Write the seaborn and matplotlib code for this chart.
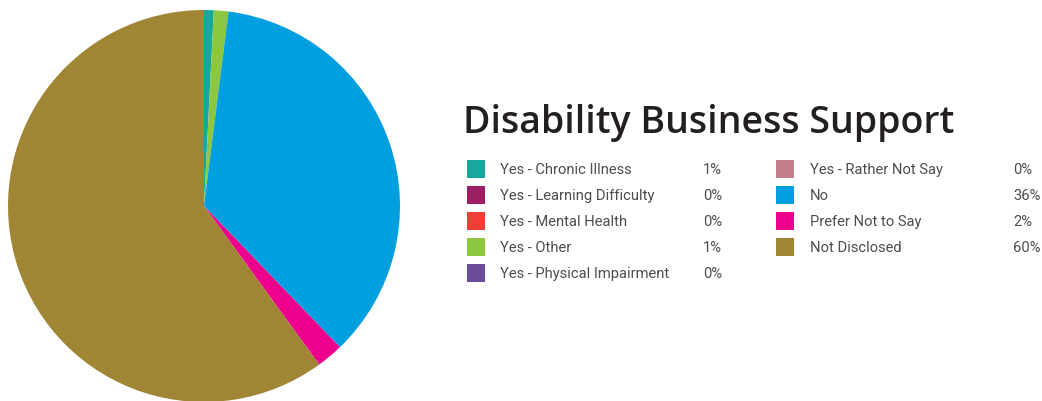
import matplotlib
matplotlib.use("Agg")
import matplotlib.pyplot as plt
import seaborn as sns
from matplotlib.patches import Rectangle

sns.set_theme(style="white")
plt.rcParams['font.family'] = ['Roboto', 'DejaVu Sans']

# data
categories = ["Yes - Chronic Illness", "Yes - Learning Difficulty", "Yes - Mental Health",
              "Yes - Other", "Yes - Physical Impairment", "Yes - Rather Not Say",
              "No", "Prefer Not to Say", "Not Disclosed"]
shares = [0.8, 0.0, 0.0, 1.2, 0.0, 0.0, 35.8, 2.2, 60.0]
share_labels = ["1%", "0%", "0%", "1%", "0%", "0%", "36%", "2%", "60%"]
colors = ["#16A79D", "#9E1F63", "#EF3E36", "#8DC63F", "#6B4C9A",
          "#C2808F", "#009FDF", "#EC008C", "#A08535"]

W, H = 1042, 401
fig = plt.figure(figsize=(W / 100, H / 100), dpi=100)

# pie: centre (204, 206) px from top-left, radius 196 px
cx, cy, r = 204, 206, 196
ax = fig.add_axes([(cx - r) / W, (H - cy - r) / H, 2 * r / W, 2 * r / H])
ax.pie(shares, colors=colors, startangle=90, counterclock=False,
       wedgeprops=dict(linewidth=0), radius=1)
ax.set_xlim(-1, 1)
ax.set_ylim(-1, 1)
ax.set_aspect("equal")
ax.axis("off")

fig.text(463 / W, 1 - 133 / H, "Disability Business Support", fontsize=27,
         family=["Open Sans", "DejaVu Sans"], fontweight="semibold",
         color="#231F20", ha="left", va="baseline")

# legend laid out as two columns
rows_y = [170, 196, 222, 248, 274]
cols = [(467, 500, 703), (776, 810, 1013)]
for i, (name, lab, col) in enumerate(zip(categories, share_labels, colors)):
    c = 0 if i < 5 else 1
    y = rows_y[i if i < 5 else i - 5]
    sq_x, tx, vx = cols[c]
    fig.patches.append(Rectangle((sq_x / W, 1 - (y + 8) / H), 18 / W, 18 / H,
                                 transform=fig.transFigure, facecolor=col,
                                 edgecolor="none"))
    fig.text(tx / W, 1 - y / H, name, fontsize=10.6, color="#4D4D4F",
             ha="left", va="center")
    fig.text(vx / W, 1 - y / H, lab, fontsize=10.6, color="#4D4D4F",
             ha="left", va="center")

fig.savefig("out.png", dpi=100)
